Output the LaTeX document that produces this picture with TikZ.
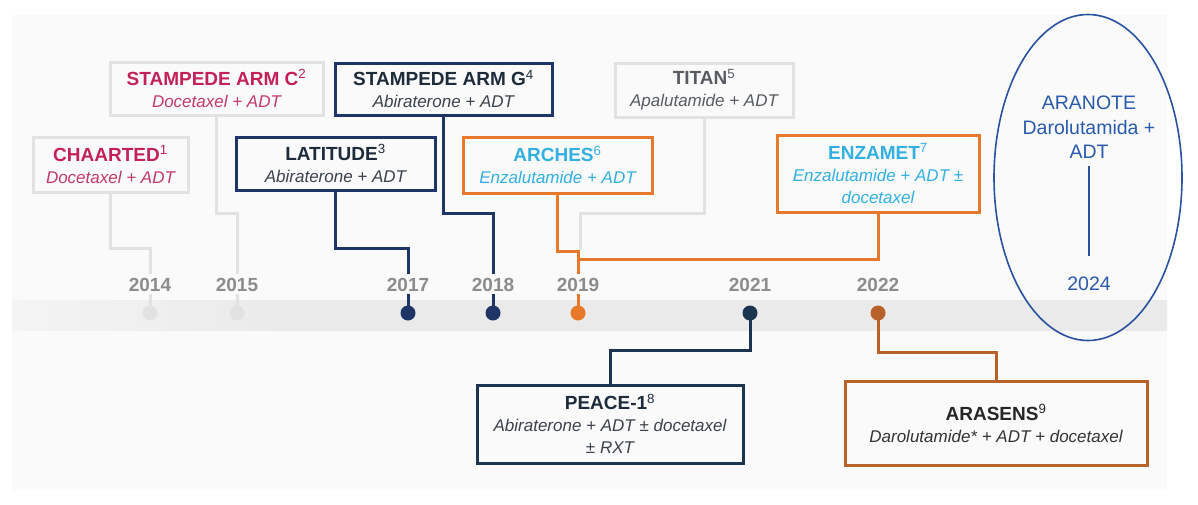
\documentclass[tikz,border=0pt]{standalone}
\usepackage{fontspec}
\setmainfont{Liberation Sans}
\usetikzlibrary{shapes.geometric}
\definecolor{panel}{HTML}{F9FAF9}
\definecolor{bandc}{HTML}{EAEAEA}
\definecolor{bandl}{HTML}{F3F4F3}
\definecolor{crim}{HTML}{C4215A}
\definecolor{crimsub}{HTML}{C43A6A}
\definecolor{lgray}{HTML}{E2E2E2}
\definecolor{navy}{HTML}{1F3566}
\definecolor{darktxt}{HTML}{1E2B3A}
\definecolor{subtxt}{HTML}{3C424C}
\definecolor{orng}{HTML}{E8792B}
\definecolor{cyanT}{HTML}{33B0E2}
\definecolor{titant}{HTML}{585C62}
\definecolor{peacec}{HTML}{1B3550}
\definecolor{brn}{HTML}{B8622A}
\definecolor{yeargray}{HTML}{8C8C8C}
\definecolor{ellc}{HTML}{2A52A0}
\definecolor{aratxt}{HTML}{2A5AAE}
\pgfdeclarehorizontalshading{bandsh}{100bp}{color(0bp)=(bandl); color(25bp)=(bandl); color(37bp)=(bandc); color(100bp)=(bandc)}
\newcommand{\ttl}[2]{{\bfseries\fontsize{19}{22}\selectfont #1\textsuperscript{\mdseries #2}}}
\begin{document}
\begin{tikzpicture}[x=1pt,y=-1pt,
  box/.style={draw=#1, line width=3pt, inner sep=0pt, align=center, font=\fontsize{17}{22}\selectfont},
  yr/.style={font=\bfseries\fontsize{19}{22}\selectfont, text=yeargray, inner sep=2pt},
  dotnode/.style={circle, fill=#1, inner sep=0pt, minimum size=15pt},
  conn/.style={draw=#1, line width=3pt},
  stem/.style={draw=#1, line width=3pt}]
\useasboundingbox (0,0) rectangle (1198,504);
\fill[white] (0,0) rectangle (1198,504);
\fill[panel] (12,15) rectangle (1167,490);
% band
\shade[shading=bandsh] (12,300) rectangle (1167,330);

% boxes
\node[box=lgray, minimum width=155pt, minimum height=55pt] (chaarted) at (110.5,164.5)
  {\textcolor{crim}{\ttl{CHAARTED}{1}}\\\textcolor{crimsub}{\itshape Docetaxel + ADT}};
\node[box=lgray, minimum width=213pt, minimum height=53pt] (stampc) at (216.5,88.5)
  {\textcolor{crim}{\ttl{STAMPEDE ARM C}{2}}\\\textcolor{crimsub}{\itshape Docetaxel + ADT}};
\node[box=navy, minimum width=199pt, minimum height=53pt] (latitude) at (335.5,163.5)
  {\textcolor{darktxt}{\ttl{LATITUDE}{3}}\\\textcolor{subtxt}{\itshape Abiraterone + ADT}};
\node[box=navy, minimum width=217pt, minimum height=52pt] (stampg) at (443.5,89)
  {\textcolor{darktxt}{\ttl{STAMPEDE ARM G}{4}}\\\textcolor{subtxt}{\itshape Abiraterone + ADT}};
\node[box=lgray, minimum width=178pt, minimum height=54pt] (titan) at (704,90)
  {\textcolor{titant}{\ttl{TITAN}{5}}\\\textcolor{titant}{\itshape Apalutamide + ADT}};
\node[box=orng, minimum width=189pt, minimum height=56pt] (arches) at (557.5,165)
  {\textcolor{cyanT}{\ttl{ARCHES}{6}}\\\textcolor{cyanT}{\itshape Enzalutamide + ADT}};
\node[box=orng, minimum width=202pt, minimum height=77pt] (enzamet) at (878,173.5)
  {\textcolor{cyanT}{\ttl{ENZAMET}{7}}\\\textcolor{cyanT}{\itshape Enzalutamide + ADT \textpm}\\\textcolor{cyanT}{\itshape docetaxel}};
\node[box=peacec, minimum width=266pt, minimum height=78pt] (peace) at (610,424)
  {\textcolor{darktxt}{\ttl{PEACE-1}{8}}\\\textcolor{subtxt}{\itshape Abiraterone + ADT \textpm{} docetaxel}\\\textcolor{subtxt}{\itshape \textpm{} RXT}};
\node[box=brn, minimum width=302pt, minimum height=84pt] (arasens) at (996,423.5)
  {\textcolor{black!85}{\ttl{ARASENS}{9}}\\\textcolor{black!80}{\itshape Darolutamide* + ADT + docetaxel}};

% years
\node[yr] (y2014) at (150,285) {2014};
\node[yr] (y2015) at (237,285) {2015};
\node[yr] (y2017) at (408,285) {2017};
\node[yr] (y2018) at (493,285) {2018};
\node[yr] (y2019) at (578,285) {2019};
\node[yr] (y2021) at (750,285) {2021};
\node[yr] (y2022) at (878,285) {2022};

% junctions
\coordinate (t19) at (580,250);
\coordinate (j19) at (580,258);

% connectors
\draw[conn=lgray] (chaarted.south) -- ++(0,55) -| ([yshift=2pt]y2014.north);
\draw[conn=lgray] (stampc.south) -- ++(0,97) -| ([yshift=2pt]y2015.north);
\draw[conn=navy] (latitude.south) -- ++(0,57) -| ([yshift=2pt]y2017.north);
\draw[conn=navy] (stampg.south) -- ++(0,97) -| ([yshift=2pt]y2018.north);
\draw[conn=lgray] (titan.south) -- ++(0,95) -| (t19);
\draw[conn=orng] (arches.south) -- ++(0,57) -| ([yshift=2pt]y2019.north);
\draw[conn=orng] (enzamet.south) -- ++(0,46) -| (j19);

% dots
\node[dotnode=lgray] (d2014) at (150,313) {};
\node[dotnode=lgray] (d2015) at (237,313) {};
\node[dotnode=navy] (d2017) at (408,313) {};
\node[dotnode=navy] (d2018) at (493,313) {};
\node[dotnode=orng] (d2019) at (578,313) {};
\node[dotnode=peacec] (d2021) at (750,313) {};
\node[dotnode=brn] (d2022) at (878,313) {};
\draw[stem=lgray] (y2014.south) -- (d2014.center);
\draw[stem=lgray] (y2015.south) -- (d2015.center);
\draw[stem=navy] (y2017.south) -- (d2017.center);
\draw[stem=navy] (y2018.south) -- (d2018.center);
\draw[stem=orng] (y2019.south) -- (d2019.center);

\draw[conn=peacec] (d2021.center) -- ++(0,37) -| (peace.north);
\draw[conn=brn] (d2022.center) -- ++(0,39) -| (arasens.north);

% ARANOTE ellipse
\node[draw=ellc, line width=1.6pt, ellipse, minimum width=188pt, minimum height=326pt] (ell) at (1088,177.5) {};
\node[text=aratxt, align=center, inner sep=0pt, font=\fontsize{19.5}{24.5}\selectfont] (aranote) at (1089,127.5)
  {ARANOTE\\Darolutamida +\\ADT};
\node[text=aratxt, inner sep=2pt, font=\fontsize{19.5}{24.5}\selectfont] (y2024) at (1089,284) {2024};
\draw[draw=ellc, line width=2.2pt, shorten <=7pt, shorten >=19pt] (aranote.south) -- (y2024.north);
\end{tikzpicture}
\end{document}
